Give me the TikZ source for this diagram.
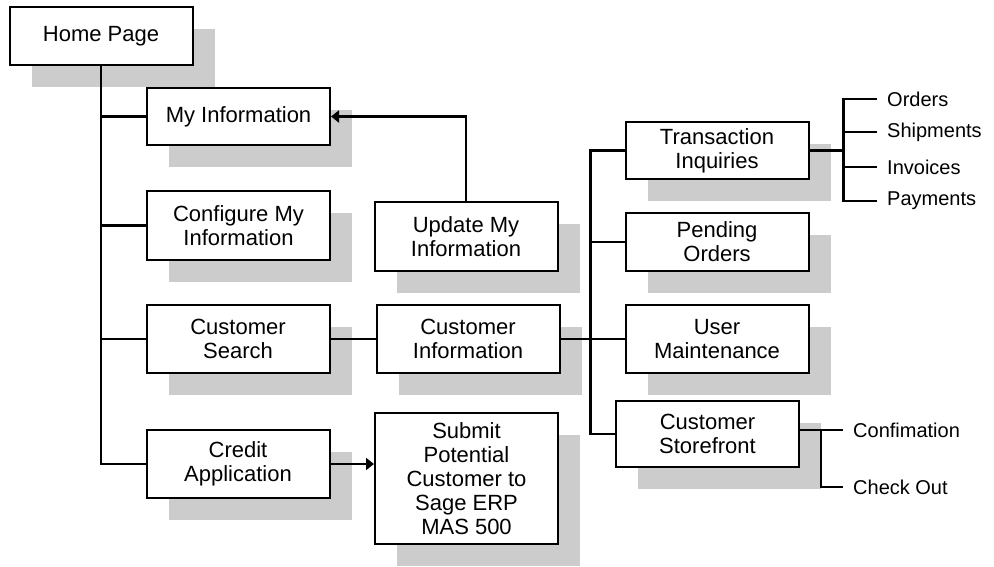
\documentclass[tikz,border=0pt]{standalone}
\usepackage{fontspec}
\setmainfont{Liberation Sans}
\usepackage{tikz}
\usetikzlibrary{positioning, arrows.meta, shadows}
\definecolor{shadowgray}{gray}{0.8}
\tikzstyle{page} = [draw, line width=2pt, fill=white, minimum width=183pt, align=center, inner sep=0pt, font=\fontsize{22}{24}\selectfont, drop shadow={shadow xshift=22pt, shadow yshift=-22pt, fill=shadowgray, opacity=1}]
\tikzstyle{leaf} = [anchor=west, inner xsep=10pt, inner ysep=0pt, font=\fontsize{20}{24}\selectfont]
\tikzstyle{link} = [line width=2.2pt]
\tikzstyle{arrow} = [line width=2.2pt, -{Triangle[length=8pt, width=12pt]}]

\begin{document}
\begin{tikzpicture}[x=1pt, y=-1pt]
        \useasboundingbox (0,0) rectangle (994,566);
        \node (home) [page, minimum height=58pt] at (101,36) {Home Page};
        \node (myinfo) [page, minimum height=57pt] at (238.5,116.5) {My Information};
        \node (config) [page, minimum height=69pt] at (238.5,225.5) {Configure My\\Information};
        \node (csearch) [page, minimum height=68pt] at (238,339) {Customer\\Search};
        \node (credit) [page, minimum height=68pt] at (238,464) {Credit\\Application};
        \node (update) [page, minimum height=69pt] at (466,236.5) {Update My\\Information};
        \node (cinfo) [page, minimum height=68pt, right=45pt of csearch] {Customer\\Information};
        \node (submit) [page, minimum height=131pt] at (466.5,478.5) {Submit\\Potential\\Customer to\\Sage ERP\\MAS 500};
        \node (trans) [page, minimum height=57pt] at (717,150.5) {Transaction\\Inquiries};
        \node (pending) [page, minimum height=58pt] at (717,242) {Pending\\Orders};
        \node (umaint) [page, minimum height=68pt] at (717,339) {User\\Maintenance};
        \node (store) [page, minimum height=66pt] at (707.5,434) {Customer\\Storefront};
        \node (orders) [leaf] at (877,99) {Orders};
        \node (shipments) [leaf] at (877,132) {Shipments};
        \node (invoices) [leaf] at (877,167) {Invoices};
        \node (payments) [leaf] at (877,201) {Payments};
        \node (confirm) [leaf] at (843,430) {Confimation};
        \node (checkout) [leaf] at (843,487) {Check Out};
        \draw [link] (home.south) |- (credit.west);
        \foreach \n in {myinfo, config, csearch}
            \draw [link] (home.south |- \n.west) -- (\n.west);
        \draw [arrow] (update.north) |- (myinfo.east);
        \draw [link] (csearch) -- (cinfo);
        \draw [arrow] (credit.east) -- (credit.east -| submit.west);
        \coordinate [left=34pt of trans.west] (branch);
        \draw [link] (trans.west) -| (branch) |- (store.west);
        \draw [link] (cinfo) -- (umaint);
        \draw [link] (branch |- pending.west) -- (pending.west);
        \coordinate [right=34pt of trans.east] (tsplit);
        \draw [link] (trans.east) -- (tsplit);
        \draw [link] (orders.west) -| (tsplit) |- (payments.west);
        \foreach \n in {shipments, invoices}
            \draw [link] (tsplit |- \n.west) -- (\n.west);
        \draw [link] (store.east |- confirm.west) -- (confirm.west);
        \draw [link] (confirm.west) ++(-22,0) coordinate (ssplit) |- (checkout.west);
    \end{tikzpicture}
\end{document}
